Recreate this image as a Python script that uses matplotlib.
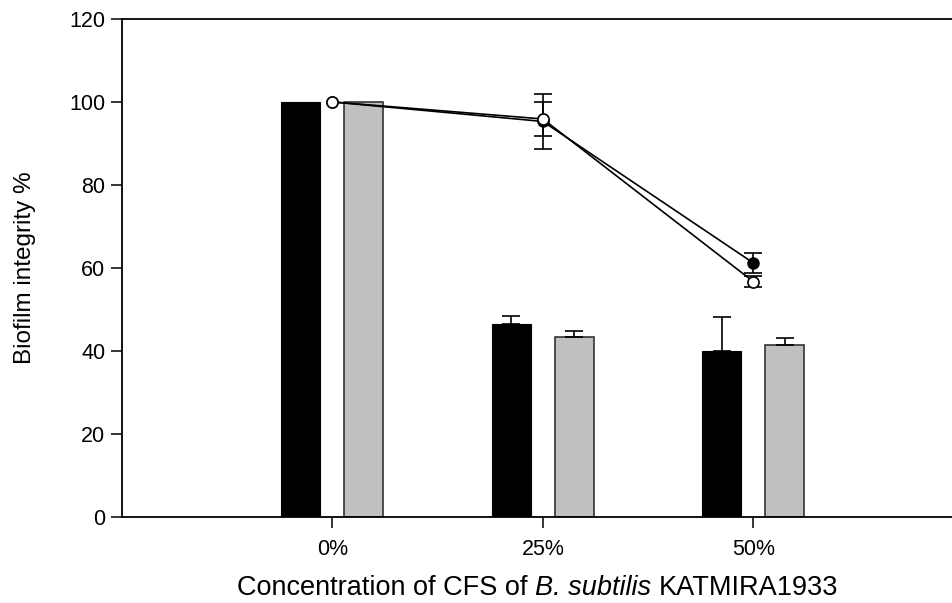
import matplotlib
matplotlib.use("Agg")
import matplotlib.pyplot as plt
import numpy as np

plt.rcParams["font.family"] = ["Liberation Sans", "DejaVu Sans"]

# values
concentrations = ["0%", "25%", "50%"]
bar_black = [100.0, 46.5, 40.0]
bar_black_err = [0.0, 1.9, 8.3]
bar_grey = [100.0, 43.3, 41.4]
bar_grey_err = [0.0, 1.4, 1.7]
line_filled = [100.0, 95.3, 61.2]
line_filled_err = [0.0, 6.7, 2.4]
line_open = [100.0, 95.9, 56.7]
line_open_err = [0.0, 4.2, 1.4]

# x axis title, split so the species name can be italic
xlabel_parts = [("Concentration of CFS of", "normal"),
                ("B. subtilis", "italic"),
                ("KATMIRA1933", "normal")]

positions = np.arange(1, len(concentrations) + 1)
offset = 0.15
width = 0.185
# the 0% control has no error bar
has_err = slice(1, None)

fig = plt.figure(figsize=(9.52, 6.03), dpi=100)
ax = fig.add_axes([0.128, 0.1426, 0.8845, 0.826])

err_style = dict(fmt="none", ecolor="black", elinewidth=1.2, capsize=6.5,
                 capthick=1.2)

x_black = positions - offset
x_grey = positions + offset
ax.bar(x_black, bar_black, width, color="black", edgecolor="black",
       linewidth=0.8, zorder=2)
ax.errorbar(x_black[has_err], bar_black[has_err],
            yerr=[np.zeros(2), bar_black_err[has_err]], zorder=2, **err_style)
ax.bar(x_grey, bar_grey, width, color="#C0C0C0", edgecolor="#333333",
       linewidth=1.2, zorder=2)
ax.errorbar(x_grey[has_err], bar_grey[has_err],
            yerr=[np.zeros(2), bar_grey_err[has_err]], zorder=2, **err_style)

# the two lines, open circles drawn on top
ax.errorbar(positions[has_err], line_filled[has_err],
            yerr=line_filled_err[has_err], zorder=3, **err_style)
ax.plot(positions, line_filled, color="black", linewidth=1.2, marker="o",
        markersize=8, markerfacecolor="black", markeredgecolor="black",
        zorder=3)
ax.errorbar(positions[has_err], line_open[has_err],
            yerr=line_open_err[has_err], zorder=4, **err_style)
ax.plot(positions, line_open, color="black", linewidth=1.2, marker="o",
        markersize=8, markerfacecolor="white", markeredgecolor="black",
        markeredgewidth=1.2, zorder=4)

ax.set_xlim(0, 4)
ax.set_ylim(0, 120)
ax.set_yticks(np.arange(0, 121, 20))
ax.set_xticks(positions)
ax.set_xticklabels(concentrations)

for side in ("left", "bottom", "top"):
    ax.spines[side].set_linewidth(1.3)
ax.spines["right"].set_visible(False)

ax.tick_params(axis="both", direction="out", length=8, width=1.1,
               labelsize=15.5, colors="black")
ax.tick_params(axis="x", pad=8)
ax.tick_params(axis="y", pad=4)

ax.set_ylabel("Biofilm integrity %", fontsize=17.5, labelpad=24)

# lay the x title out piece by piece, centred under the plot
label_size = 19.5
label_centre_px = 538
label_baseline = 0.0135
space_px = 0.278 * label_size * fig.dpi / 72
renderer = fig.canvas.get_renderer()
pieces = [fig.text(0, label_baseline, text, fontsize=label_size, style=style,
                   ha="left", va="baseline")
          for text, style in xlabel_parts]
widths = [piece.get_window_extent(renderer).width for piece in pieces]
total = sum(widths) + space_px * (len(pieces) - 1)
left_px = label_centre_px - total / 2
for piece, piece_width in zip(pieces, widths):
    piece.set_x(left_px / fig.bbox.width)
    left_px += piece_width + space_px

fig.savefig("out.png", dpi=100)
